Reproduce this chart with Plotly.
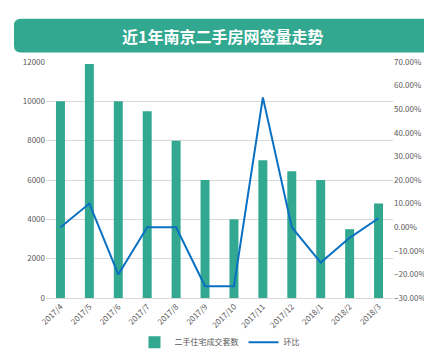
import plotly.graph_objects as go

categories = ["2017/4", "2017/5", "2017/6", "2017/7", "2017/8", "2017/9",
              "2017/10", "2017/11", "2017/12", "2018/1", "2018/2", "2018/3"]
deals = [10000, 11900, 10000, 9500, 8000, 6000, 4000, 7000, 6450, 6000, 3500, 4800]
mom = [0.0, 0.10, -0.20, 0.0, 0.0, -0.25, -0.25, 0.55, 0.0, -0.15, -0.045, 0.038]

W, H = 432, 361
L, R, T, B = 38, 385, 54, 300
pw, ph = R - L, B - T

def px(x):
    return (x - L) / pw

def py(y):
    return (B - y) / ph

teal = "#31a88f"
blue = "#0a70c2"
font = "Noto Sans CJK SC"

fig = go.Figure()
fig.add_trace(go.Bar(x=categories, y=deals, name="二手住宅成交套数",
                     marker=dict(color=teal, line=dict(width=0)), yaxis="y"))
fig.add_trace(go.Scatter(x=categories, y=mom, name="环比", mode="lines",
                         line=dict(color=blue, width=2), yaxis="y2"))

# rounded title box
x0, x1, y0, y1, r = 6, 423, 9, 44, 7
path = (f"M {px(x0+r)} {py(y0)} L {px(x1-r)} {py(y0)} Q {px(x1)} {py(y0)} {px(x1)} {py(y0+r)} "
        f"L {px(x1)} {py(y1-r)} Q {px(x1)} {py(y1)} {px(x1-r)} {py(y1)} "
        f"L {px(x0+r)} {py(y1)} Q {px(x0)} {py(y1)} {px(x0)} {py(y1-r)} "
        f"L {px(x0)} {py(y0+r)} Q {px(x0)} {py(y0)} {px(x0+r)} {py(y0)} Z")

fig.update_layout(
    width=W, height=H,
    margin=dict(l=L, r=W - R, t=T, b=H - B),
    paper_bgcolor="white", plot_bgcolor="white",
    bargap=0.69,
    font=dict(family=font, size=8, color="#595959"),
    shapes=[dict(type="path", path=path, xref="paper", yref="paper",
                 fillcolor=teal, line=dict(width=0), layer="above")],
    annotations=[dict(text="<b>近1年南京二手房网签量走势</b>", x=px(214.5), y=py(26.5),
                      xref="paper", yref="paper", showarrow=False,
                      font=dict(family=font, size=16, color="white"),
                      xanchor="center", yanchor="middle")],
    xaxis=dict(type="category", tickangle=-45, showline=True, linecolor="#d9d9d9",
               linewidth=1, ticks="", showgrid=False,
               tickfont=dict(size=8, color="#595959")),
    yaxis=dict(range=[0, 12000], dtick=2000, tickformat="d", showgrid=True,
               gridcolor="#d9d9d9", gridwidth=1, zeroline=False, ticks="",
               showline=False, tickfont=dict(size=8, color="#595959")),
    yaxis2=dict(range=[-0.3, 0.7], dtick=0.1, tickformat=".2%", overlaying="y",
                side="right", showgrid=False, zeroline=False, ticks="",
                tickfont=dict(size=8, color="#595959")),
    legend=dict(orientation="h", x=0.5, xanchor="center", y=py(346), yanchor="middle",
                font=dict(size=8, color="#595959"), itemwidth=30,
                bgcolor="rgba(0,0,0,0)"),
)

fig.write_html("out.html")
